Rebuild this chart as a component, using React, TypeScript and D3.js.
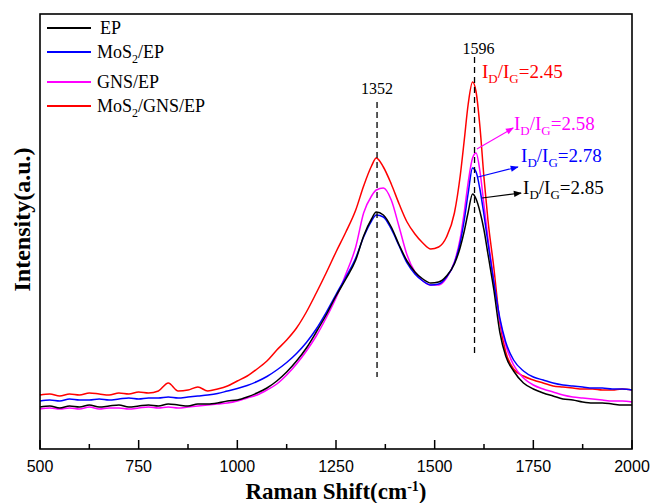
import React from "react";
import * as d3 from "d3";

const shifts = [500,525,550,575,600,625,650,675,700,725,750,775,800,825,850,875,900,925,950,975,1000,1025,1050,1075,1100,1125,1150,1175,1200,1225,1250,1275,1300,1320,1340,1352,1370,1390,1410,1430,1450,1470,1490,1510,1530,1550,1565,1575,1585,1596,1605,1615,1625,1635,1650,1665,1680,1700,1725,1750,1775,1800,1825,1850,1875,1900,1925,1950,1975,2000];

const epValues = [420,430,410,430,420,440,420,430,440,420,430,440,430,450,440,430,450,450,460,480,490,520,560,610,680,770,880,1010,1170,1340,1530,1700,1890,2130,2300,2370,2340,2220,2040,1880,1770,1700,1660,1670,1730,1850,2020,2180,2370,2550,2500,2370,2190,1950,1590,1170,930,780,660,600,560,530,500,490,470,460,460,450,440,440];

const mos2EpValues = [480,490,480,500,490,490,500,490,500,510,500,510,510,520,510,520,530,540,555,580,605,635,675,725,790,865,955,1065,1200,1365,1545,1720,1910,2120,2280,2340,2320,2200,2030,1860,1750,1680,1640,1650,1720,1860,2070,2290,2560,2810,2770,2590,2340,2060,1670,1310,1070,890,780,720,690,660,640,630,620,610,610,600,600,590];

const gnsEpValues = [400,410,400,410,400,420,400,410,410,400,410,420,410,420,410,420,430,440,450,460,480,510,540,590,650,740,850,980,1130,1310,1510,1750,2020,2360,2530,2590,2610,2490,2220,1940,1770,1680,1640,1640,1710,1870,2110,2370,2670,2910,2960,2770,2440,2110,1680,1290,1040,840,710,640,600,570,540,520,510,500,490,480,480,470];

const mos2GnsEpValues = [540,550,530,550,540,560,550,540,560,550,570,560,580,660,580,590,620,580,600,630,680,730,800,880,990,1090,1210,1370,1560,1760,1970,2170,2390,2630,2830,2910,2820,2650,2450,2270,2150,2060,2000,2020,2120,2360,2740,3090,3450,3670,3570,3210,2710,2290,1810,1270,970,800,730,690,660,630,620,610,600,600,590,590,600,590];

const seriesNames = ["EP", "MoS2/EP", "GNS/EP", "MoS2/GNS/EP"];
const seriesColors = ["#000000", "#0000ff", "#ff00ff", "#ff0000"];
const seriesValues = [epValues, mos2EpValues, gnsEpValues, mos2GnsEpValues];

const xTicks = [500, 750, 1000, 1250, 1500, 1750, 2000];
const xMinorTicks = [625, 875, 1125, 1375, 1625, 1875];

const peakLabels = ["1352", "1596"];
const peakShifts = [1354, 1601];
const ratioLabels = ["2.85", "2.78", "2.58", "2.45"];

const W = 654;
const H = 503;
const left = 40, right = 632, top = 14, bottom = 449;

const SERIF = "'Liberation Serif', 'Times New Roman', serif";
const SANS = "'Liberation Sans', Arial, sans-serif";

function SubName({ name }: { name: string }) {
  const parts = name.split("MoS2");
  const out: React.ReactNode[] = [];
  parts.forEach((p, i) => {
    if (i > 0) {
      out.push(<tspan key={"m" + i}>MoS</tspan>);
      out.push(<tspan key={"s" + i} dy={5} fontSize={12}>2</tspan>);
      out.push(<tspan key={"r" + i} dy={-5}>{p}</tspan>);
    } else if (p) {
      out.push(<tspan key={"p" + i}>{p}</tspan>);
    }
  });
  return <>{out}</>;
}

export default function App() {
  const x = d3.scaleLinear().domain([500, 2000]).range([left, right]);
  const y = d3.scaleLinear().domain([0, 4350]).range([bottom, top]);

  const line = d3
    .line<number>()
    .x((_, i) => x(shifts[i]))
    .y((d) => y(d))
    .curve(d3.curveMonotoneX);

  const drawOrder = [3, 2, 1, 0];
  const legendY = [28, 52, 82, 106];

  const ratioPos = [
    { lx: 1724, ly: 2550, arrow: [1620, 2510, 1719, 2560] },
    { lx: 1719, ly: 2870, arrow: [1610, 2720, 1711, 2820] },
    { lx: 1701, ly: 3190, arrow: [1607, 3000, 1699, 3210] },
    { lx: 1620, ly: 3710, arrow: null as null | number[] },
  ];

  return (
    <svg
      width={W}
      height={H}
      style={{ position: "absolute", left: 0, top: 0, background: "#fff" }}
    >
      <defs>
        {seriesColors.map((c, i) => (
          <marker
            key={i}
            id={"arr" + i}
            viewBox="0 0 10 10"
            refX={9}
            refY={5}
            markerWidth={10}
            markerHeight={8}
            markerUnits="userSpaceOnUse"
            orient="auto"
          >
            <path d="M0,1 L10,5 L0,9 z" fill={c} />
          </marker>
        ))}
      </defs>
      <rect x={0} y={0} width={W} height={H} fill="#fff" />

      {drawOrder.map((si) => (
        <path
          key={si}
          d={line(seriesValues[si]) || ""}
          fill="none"
          stroke={seriesColors[si]}
          strokeWidth={1.5}
          strokeLinejoin="round"
        />
      ))}

      <line
        x1={x(peakShifts[0])}
        x2={x(peakShifts[0])}
        y1={y(3470)}
        y2={y(720)}
        stroke="#000"
        strokeWidth={1.3}
        strokeDasharray="6,4"
      />
      <line
        x1={x(peakShifts[1])}
        x2={x(peakShifts[1])}
        y1={y(3920)}
        y2={y(960)}
        stroke="#000"
        strokeWidth={1.3}
        strokeDasharray="6,4"
      />
      <text x={x(peakShifts[0])} y={y(3550)} textAnchor="middle" fontFamily={SERIF} fontSize={16}>
        {peakLabels[0]}
      </text>
      <text x={x(peakShifts[1]) + 4} y={y(3950)} textAnchor="middle" fontFamily={SERIF} fontSize={16}>
        {peakLabels[1]}
      </text>

      {ratioPos.map((p, i) => (
        <g key={i}>
          {p.arrow && (
            <line
              x1={x(p.arrow[0])}
              y1={y(p.arrow[1])}
              x2={x(p.arrow[2])}
              y2={y(p.arrow[3])}
              stroke={seriesColors[i]}
              strokeWidth={1.2}
              markerEnd={`url(#arr${i})`}
            />
          )}
          <text x={x(p.lx)} y={y(p.ly)} fill={seriesColors[i]} fontFamily={SERIF} fontSize={19}>
            I<tspan dy={5} fontSize={13}>D</tspan>
            <tspan dy={-5}>/I</tspan>
            <tspan dy={5} fontSize={13}>G</tspan>
            <tspan dy={-5}>={ratioLabels[i]}</tspan>
          </text>
        </g>
      ))}

      <rect
        x={left}
        y={top}
        width={right - left}
        height={bottom - top}
        fill="none"
        stroke="#000"
        strokeWidth={1.6}
      />

      {xTicks.map((t) => (
        <g key={t}>
          <line x1={x(t)} x2={x(t)} y1={bottom} y2={bottom - 9} stroke="#000" strokeWidth={1.5} />
          <text x={x(t)} y={bottom + 23} textAnchor="middle" fontFamily={SANS} fontSize={16}>
            {t}
          </text>
        </g>
      ))}
      {xMinorTicks.map((t) => (
        <line key={t} x1={x(t)} x2={x(t)} y1={bottom} y2={bottom - 5} stroke="#000" strokeWidth={1.5} />
      ))}

      <text
        x={(left + right) / 2}
        y={499}
        textAnchor="middle"
        fontFamily={SERIF}
        fontWeight="bold"
        fontSize={23}
      >
        Raman Shift(cm<tspan dy={-8} fontSize={14}>-1</tspan>
        <tspan dy={8}>)</tspan>
      </text>
      <text
        transform={`translate(30,${(top + bottom) / 2 - 12}) rotate(-90)`}
        textAnchor="middle"
        fontFamily={SERIF}
        fontWeight="bold"
        fontSize={24}
      >
        Intensity(a.u.)
      </text>

      {seriesNames.map((n, i) => (
        <g key={n}>
          <line x1={47} x2={91} y1={legendY[i]} y2={legendY[i]} stroke={seriesColors[i]} strokeWidth={2} />
          <text x={i === 0 ? 100 : 97} y={legendY[i] + 6} fontFamily={SERIF} fontSize={18}>
            <SubName name={n} />
          </text>
        </g>
      ))}
    </svg>
  );
}
